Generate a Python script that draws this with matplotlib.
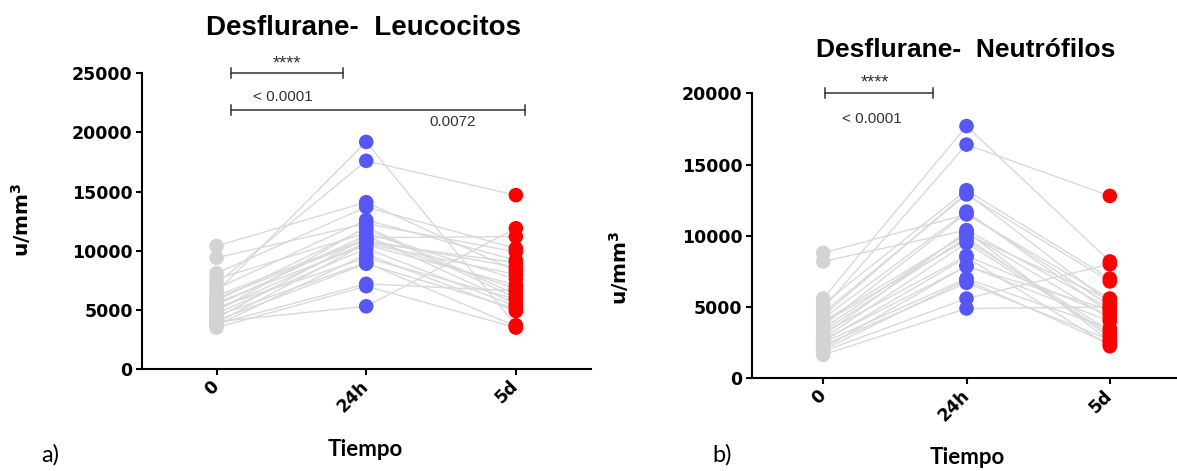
import matplotlib
matplotlib.use("Agg")
import matplotlib.pyplot as plt

# time points
times = ["0", "24h", "5d"]

# Desflurane - leucocitos (u/mm3), one entry per patient
leu_0 = [10400, 9400, 8100, 7600, 7200, 6800, 6500, 6200, 6000, 5800, 5600, 5400,
         5200, 5000, 4900, 4700, 4500, 4300, 4100, 3900, 3800, 3700, 4000, 3500]
leu_24h = [14100, 12300, 13700, 11500, 17600, 12600, 19200, 11000, 10900, 11900, 10500, 11300,
           9400, 10700, 12000, 10200, 9000, 11100, 8900, 10600, 7200, 9700, 5300, 7000]
leu_5d = [8300, 9900, 10200, 7600, 14700, 9200, 3700, 6800, 8600, 6000, 7100, 5500,
          5900, 9000, 6300, 5300, 3600, 11200, 5100, 8000, 6600, 4900, 11900, 3500]

# Desflurane - neutrofilos (u/mm3)
neu_0 = [8800, 8200, 5600, 5200, 4900, 4600, 4400, 4200, 4000, 3900, 3700, 3500,
         3300, 3200, 3000, 2800, 2700, 2600, 2500, 2300, 2100, 2000, 1900, 1650]
neu_24h = [11500, 10400, 17700, 13200, 16400, 12900, 13000, 11700, 10100, 9700, 11600, 10200,
           9900, 8600, 10300, 9500, 7850, 8500, 7000, 6700, 7900, 6900, 5600, 4900]
neu_5d = [5600, 4900, 8200, 7000, 12800, 6800, 5300, 4600, 5500, 3300, 5100, 4200,
          2900, 4400, 2600, 3100, 4800, 2250, 3500, 2700, 4000, 2400, 8000, 5000]

colors = ["#d3d3d3", "#5757f7", "#ff0000"]
W, H = 1177, 471

fig = plt.figure(figsize=(W / 100, H / 100), dpi=100)

def px(x, y):
    return x / W, 1 - y / H

def panel(rect, t0, t24, t5, ymax, yticks):
    ax = fig.add_axes(rect)
    for a, b, c in zip(t0, t24, t5):
        ax.plot([0, 1, 2], [a, b, c], color="#d9d9d9", lw=1, zorder=1)
    for i, vals in enumerate([t0, t24, t5]):
        ax.scatter([i] * len(vals), vals, s=110, color=colors[i], edgecolors="none",
                   zorder=3, clip_on=False)
    ax.set_xlim(-0.5, 2.5)
    ax.set_ylim(0, ymax)
    ax.set_xticks(range(3))
    ax.set_xticklabels(times, rotation=45, ha="right", va="center", rotation_mode="anchor",
                       fontsize=12.5, fontweight="bold")
    ax.set_yticks(yticks)
    ax.set_yticklabels([str(v) for v in yticks], fontsize=12.5, fontweight="bold")
    for s in ["top", "right"]:
        ax.spines[s].set_visible(False)
    for s in ["left", "bottom"]:
        ax.spines[s].set_linewidth(1.5)
    ax.tick_params(width=1.5, length=4.5, pad=2)
    ax.tick_params(axis="x", pad=6)
    return ax

def bracket(ax, x0, x1, y, h):
    kw = dict(color="#333333", lw=1.1, clip_on=False)
    ax.plot([x0, x1], [y, y], **kw)
    ax.plot([x0, x0], [y - h, y + h], **kw)
    ax.plot([x1, x1], [y - h, y + h], **kw)

# left panel
axL = panel([141.7 / W, (H - 369) / H, 449 / W, (369 - 73.3) / H],
            leu_0, leu_24h, leu_5d, 25000, [0, 5000, 10000, 15000, 20000, 25000])
bracket(axL, 0.094, 0.845, 25000, 420)
bracket(axL, 0.094, 2.058, 21900, 420)
axL.text(0.47, 25800, "****", ha="center", va="center", fontsize=13, color="#333333",
         family="Liberation Sans")
axL.text(0.44, 23000, "< 0.0001", ha="center", va="center", fontsize=11, color="#333333",
         family="Liberation Sans")
axL.text(1.576, 20880, "0.0072", ha="center", va="center", fontsize=11, color="#333333",
         family="Liberation Sans")

# right panel
axR = panel([751.5 / W, (H - 378.3) / H, 430 / W, 285 / H],
            neu_0, neu_24h, neu_5d, 20000, [0, 5000, 10000, 15000, 20000])
bracket(axR, 0.01, 0.764, 20000, 350)
axR.text(0.363, 20750, "****", ha="center", va="center", fontsize=13, color="#333333",
         family="Liberation Sans")
axR.text(0.339, 18200, "< 0.0001", ha="center", va="center", fontsize=11, color="#333333",
         family="Liberation Sans")

# titles and labels
fig.text(*px(364, 28), "Desflurane-  Leucocitos", ha="center", va="center",
         fontsize=20, fontweight="bold", family="Liberation Sans")
fig.text(*px(966, 50), "Desflurane-  Neutrófilos", ha="center", va="center",
         fontsize=19, fontweight="bold", family="Liberation Sans")
for x, y in [(21, 220), (619, 268)]:
    fig.text(*px(x, y), r"u/mm$^\mathbf{3}$", rotation=90, ha="center", va="center",
             fontsize=14.5, fontweight="bold")
for x, y in [(365, 450), (967, 457)]:
    fig.text(*px(x, y), "Tiempo", ha="center", va="center", fontsize=16,
             fontweight="bold", family="Lato")
fig.text(*px(50, 455), "a)", ha="center", va="center", fontsize=17, family="Lato")
fig.text(*px(722, 455), "b)", ha="center", va="center", fontsize=17, family="Lato")

fig.savefig("out.png", dpi=100)
